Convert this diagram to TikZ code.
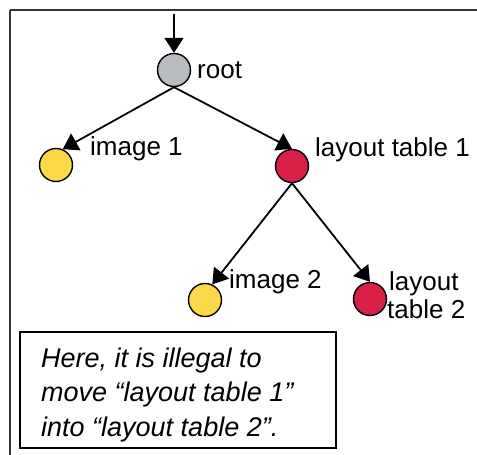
\documentclass[tikz,border=0pt]{standalone}
\usepackage{fontspec}
\setmainfont{Liberation Sans}
\usetikzlibrary{arrows.meta}
\definecolor{nodegray}{RGB}{184,187,191}
\definecolor{nodeyellow}{RGB}{250,216,72}
\definecolor{nodered}{RGB}{218,32,72}
\tikzset{
  treenode/.style={circle, draw=black, line width=1.4pt, minimum size=33pt, inner sep=0pt},
  link/.style={line width=1.8pt, -{Triangle[length=15pt,width=19pt]}},
  lbl/.style={anchor=base west, inner sep=0pt, font=\fontsize{26}{28}\selectfont},
  note/.style={anchor=base west, inner sep=0pt, font=\fontsize{27}{34}\selectfont\itshape},
}
\begin{document}
\begin{tikzpicture}[x=1pt,y=-1pt]
  \useasboundingbox (0,0) rectangle (477,455);
  % frame edges
  \draw[line width=2pt, black!80] (10,10) -- (477,10);
  \draw[line width=1.5pt, black!80] (10,10) -- (10,455);

  % tree nodes
  \node[treenode, fill=nodegray]   (root) at (174,70)  {};
  \node[treenode, fill=nodeyellow] (img1) at (56,165)  {};
  \node[treenode, fill=nodered]    (lt1)  at (292,166) {};
  \node[treenode, fill=nodeyellow] (img2) at (205,300) {};
  \node[treenode, fill=nodered]    (lt2)  at (370,299) {};
  \coordinate (entry) at (174,14);

  % labels
  \node[lbl] (lroot) at (197,78)  {root};
  \node[lbl] (limg1) at (90,155)  {image 1};
  \node[lbl] (llt1)  at (315,156) {layout table 1};
  \node[lbl] (limg2) at (229,288) {image 2};
  \node[lbl] (llt2a) at (389,290) {layout};
  \node[lbl] (llt2b) at (387,318) {table 2};

  % edges
  \draw[link] (entry) -- (root.north);
  \draw[link] (root.south) -- (img1.67);
  \draw[link] (root.south) -- (lt1.north);
  \draw[link] (lt1.south) -- (img2.65);
  \draw[link] (lt1.south) -- (lt2.north);

  % note box
  \node[draw=black, line width=1.5pt, anchor=north west, minimum width=316pt,
        minimum height=116pt, inner sep=0pt] (box) at (19,331) {};
  \node[note] (n1) at (41,367) {Here, it is illegal to};
  \node[note] (n2) at (41,401.5) {move “layout table 1”};
  \node[note] (n3) at (41,436) {into “layout table 2”.};
\end{tikzpicture}
\end{document}
